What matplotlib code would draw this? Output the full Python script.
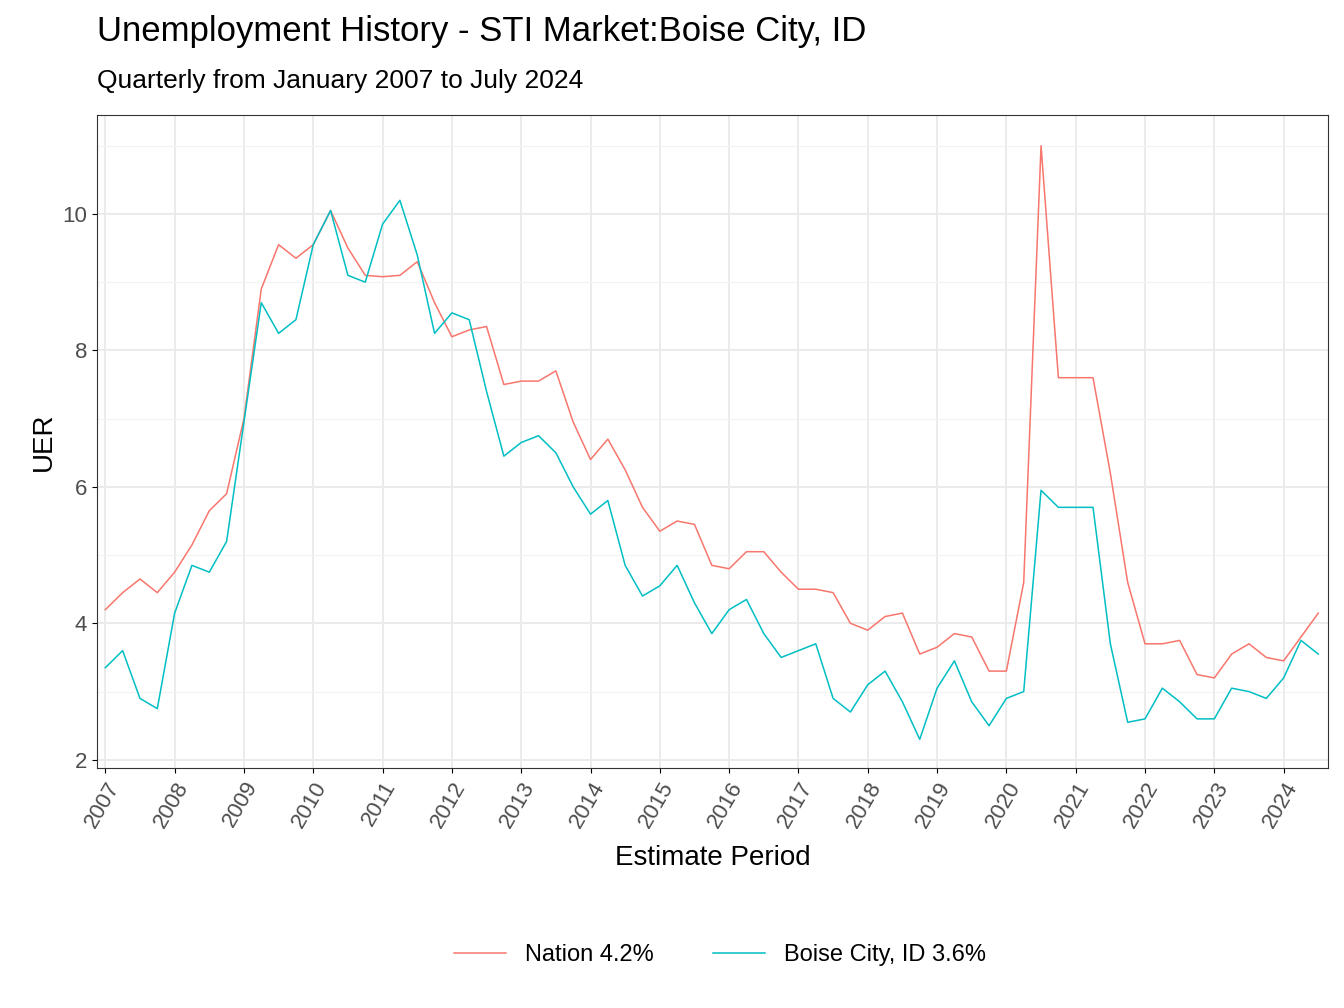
import matplotlib
matplotlib.use("Agg")
import matplotlib.pyplot as plt
import numpy as np
plt.rcParams["font.family"] = "Liberation Sans"

nation = [4.2,4.45,4.65,4.45, 4.75,5.15,5.65,5.9, 7.0,8.9,9.55,9.35, 9.55,10.05,9.5,9.1,
          9.08,9.1,9.3,8.7, 8.2,8.3,8.35,7.5, 7.55,7.55,7.7,6.95, 6.4,6.7,6.25,5.7,
          5.35,5.5,5.45,4.85, 4.8,5.05,5.05,4.75, 4.5,4.5,4.45,4.0, 3.9,4.1,4.15,3.55,
          3.65,3.85,3.8,3.3, 3.3,4.6,11.0,7.6, 7.6,7.6,6.2,4.6, 3.7,3.7,3.75,3.25,
          3.2,3.55,3.7,3.5, 3.45,3.8,4.15]
boise = [3.35,3.6,2.9,2.75, 4.15,4.85,4.75,5.2, 6.95,8.7,8.25,8.45, 9.55,10.05,9.1,9.0,
         9.85,10.2,9.4,8.25, 8.55,8.45,7.4,6.45, 6.65,6.75,6.5,6.0, 5.6,5.8,4.85,4.4,
         4.55,4.85,4.3,3.85, 4.2,4.35,3.85,3.5, 3.6,3.7,2.9,2.7, 3.1,3.3,2.85,2.3,
         3.05,3.45,2.85,2.5, 2.9,3.0,5.95,5.7, 5.7,5.7,3.7,2.55, 2.6,3.05,2.85,2.6,
         2.6,3.05,3.0,2.9, 3.2,3.75,3.55]
years = list(range(2007, 2025))
t = 2007 + np.arange(len(nation)) * 0.25

fig = plt.figure(figsize=(13.44, 10.08), dpi=100)
ax = fig.add_axes([97/1344, 1-768/1008, (1328-97)/1344, (768-115)/1008])
ax.plot(t, nation, color="#F8766D", lw=1.1, label="Nation 4.2%")
ax.plot(t, boise, color="#00BFC4", lw=1.1, label="Boise City, ID 3.6%")
ax.set_xlim(2006.88, 2024.64)
ax.set_ylim(1.88, 11.45)
ax.set_xticks(years)
ax.set_xticklabels([str(y) for y in years], rotation=60, ha="right", rotation_mode="anchor", fontsize=16, color="#4d4d4d")
ax.set_yticks([2,4,6,8,10])
ax.set_yticks([3,5,7,9,11], minor=True)
ax.tick_params(axis="y", labelsize=16, labelcolor="#4d4d4d")
ax.tick_params(which="minor", length=0)
ax.grid(which="major", color="#ebebeb", lw=1.4)
ax.grid(which="minor", axis="y", color="#f3f3f3", lw=0.8)
ax.set_axisbelow(True)
for s in ax.spines.values():
    s.set_color("#333333")
ax.set_xlabel("Estimate Period", fontsize=20, labelpad=10)
ax.set_ylabel("UER", fontsize=20)
fig.text(97/1344, 1-32/1008, "Unemployment History - STI Market:Boise City, ID", fontsize=25, va="center")
fig.text(97/1344, 1-81/1008, "Quarterly from January 2007 to July 2024", fontsize=19, va="center")
fig.legend(loc="center", bbox_to_anchor=(720/1344, 1-955/1008), ncol=2, frameon=False, fontsize=17,
           handlelength=2.2, columnspacing=2.5)
fig.savefig("out.png", dpi=100)
